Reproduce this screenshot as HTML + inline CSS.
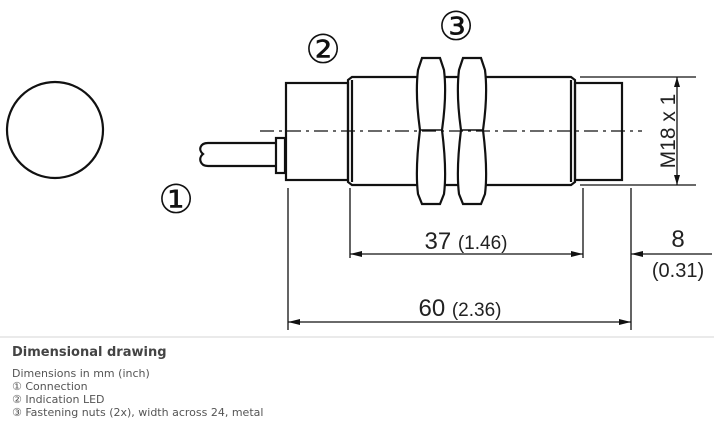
<!DOCTYPE html>
<html><head><meta charset="utf-8"><style>
body{margin:0;width:714px;height:423px;background:#fff;overflow:hidden;font-family:"Liberation Sans",sans-serif}
svg{position:absolute;left:0;top:0}
.cap{position:absolute;left:12px;color:#555;font-family:"DejaVu Sans","Liberation Sans",sans-serif;font-size:11px;line-height:13px}
</style></head><body>
<svg width="714" height="423" viewBox="0 0 714 423">
<g fill="none" stroke="#111" stroke-width="2.2">
<circle cx="55" cy="130" r="48"/>
<path d="M277 143 H208 C200 143 198 150 203 154 C198 158 200 166 208 166 H277"/>
<rect x="276" y="138" width="9" height="35"/>
<rect x="286" y="83" width="62" height="97"/>
<path d="M348 80 L352 77 H571 L575 80 V182 L571 185 H352 L348 182 Z"/>
<line x1="352" y1="80" x2="352" y2="182"/>
<line x1="571" y1="80" x2="571" y2="182"/>
<rect x="575" y="83" width="47" height="97"/>
<path d="M422 58 H440 L444 70 Q447 95 442 130 Q447 170 444 194 L440 204 H422 L418 194 Q415 170 420 130 Q415 95 418 70 Z" fill="#fff"/>
<path d="M463 58 H481 L485 70 Q488 95 483 130 Q488 170 485 194 L481 204 H463 L459 194 Q456 170 461 130 Q456 95 459 70 Z" fill="#fff"/>
<line x1="420" y1="130" x2="442" y2="130" stroke-width="1.5"/>
<line x1="461" y1="130" x2="483" y2="130" stroke-width="1.5"/>
</g>
<g stroke="#111" stroke-width="1.3" fill="none">
<line x1="260" y1="131" x2="642" y2="131" stroke-dasharray="14 5 3 5"/>
<line x1="580" y1="77" x2="696" y2="77"/>
<line x1="580" y1="185" x2="696" y2="185"/>
<line x1="677" y1="77" x2="677" y2="185"/>
<line x1="288" y1="188" x2="288" y2="330"/>
<line x1="350" y1="188" x2="350" y2="258"/>
<line x1="583" y1="188" x2="583" y2="258"/>
<line x1="631" y1="188" x2="631" y2="330"/>
<line x1="350" y1="254" x2="583" y2="254"/>
<line x1="631" y1="254" x2="712" y2="254"/>
<line x1="288" y1="322" x2="631" y2="322"/>
<line x1="0" y1="337" x2="714" y2="337" stroke="#ddd"/>
</g>
<g fill="#111">
<path d="M677 77 l-3 10 h6z"/><path d="M677 185 l-3 -10 h6z"/>
<path d="M350 254 l12 -3 v6z"/><path d="M583 254 l-12 -3 v6z"/>
<path d="M631 254 l12 -3 v6z"/>
<path d="M288 322 l12 -3 v6z"/><path d="M631 322 l-12 -3 v6z"/>
</g>
<g fill="#222" font-family="Liberation Sans,sans-serif">
<text x="466" y="249" text-anchor="middle" font-size="24">37 <tspan font-size="19">(1.46)</tspan></text>
<text x="678" y="247" text-anchor="middle" font-size="24">8</text>
<text x="678" y="277" text-anchor="middle" font-size="20">(0.31)</text>
<text x="460" y="316" text-anchor="middle" font-size="24">60 <tspan font-size="19">(2.36)</tspan></text>
<text transform="translate(675,131) rotate(-90)" text-anchor="middle" font-size="21">M18 x 1</text>
</g>
<g fill="#111" font-family="DejaVu Sans,sans-serif" font-size="40">
<text x="176" y="213" text-anchor="middle">①</text>
<text x="323" y="63" text-anchor="middle">②</text>
<text x="456" y="40" text-anchor="middle">③</text>
</g>
</svg>
<div class="cap" style="top:346px;font-weight:bold;font-size:13px;color:#444">Dimensional drawing</div>
<div class="cap" style="top:367px">Dimensions in mm (inch)<br>① Connection<br>② Indication LED<br>③ Fastening nuts (2x), width across 24, metal</div>
</body></html>
